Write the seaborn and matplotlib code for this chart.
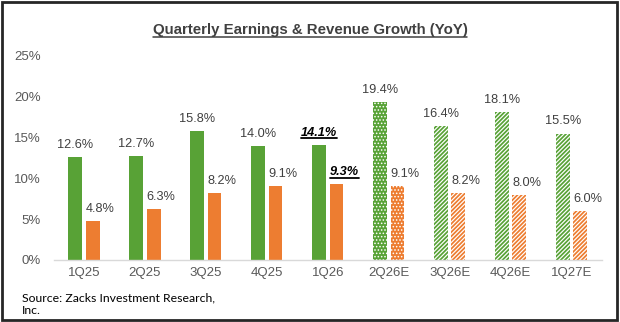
import matplotlib
matplotlib.use("Agg")
import matplotlib.pyplot as plt
import seaborn as sns
import pandas as pd
from matplotlib.patches import Rectangle
from matplotlib.lines import Line2D

# ---- data ----
quarters = ["1Q25", "2Q25", "3Q25", "4Q25", "1Q26", "2Q26E", "3Q26E", "4Q26E", "1Q27E"]
earnings = [12.6, 12.7, 15.8, 14.0, 14.1, 19.4, 16.4, 18.1, 15.5]
revenue = [4.8, 6.3, 8.2, 9.1, 9.3, 9.1, 8.2, 8.0, 6.0]
series = ["Earnings Growth", "Revenue Growth"]
y_ticks = [0, 5, 10, 15, 20, 25]
title = "Quarterly Earnings & Revenue Growth (YoY)"
source = "Source: Zacks Investment Research,\nInc."

# ---- styles ----
fill_style = ["solid"] * 5 + ["dots"] + ["stripes"] * 3
highlight = "1Q26"
GREEN = "#58A236"
ORANGE = "#ED7D31"
TXT = "#404040"
TICK = "#595959"
W, H = 620, 322

sns.set_theme(style="white")
plt.rcParams["font.family"] = ["Liberation Sans", "DejaVu Sans"]
plt.rcParams["hatch.linewidth"] = 1.25

df = pd.DataFrame({
    "quarter": quarters * 2,
    "series": [series[0]] * len(quarters) + [series[1]] * len(quarters),
    "value": earnings + revenue,
})

fig = plt.figure(figsize=(W / 100, H / 100), dpi=100)
fig.patch.set_facecolor("white")
ax = fig.add_axes([53.5 / W, 62 / H, (602 - 53.5) / W, 204 / H])
sns.barplot(data=df, x="quarter", y="value", hue="series", order=quarters,
            hue_order=series, palette=[GREEN, ORANGE], width=0.572, gap=0.21,
            saturation=1, linewidth=0, legend=False, ax=ax, errorbar=None)

colors = [GREEN, ORANGE]
underline_texts = []
for si, cont in enumerate(ax.containers):
    col = colors[si]
    for i, bar in enumerate(cont):
        st = fill_style[i]
        if st == "dots":
            bar.set_facecolor(col)
            bar.set_edgecolor("white")
            bar.set_hatch(".....")
            bar.set_linewidth(0)
            if hasattr(bar, "set_hatch_linewidth"):
                bar.set_hatch_linewidth(0.7)
        elif st == "stripes":
            bar.set_facecolor("white")
            bar.set_edgecolor(col)
            bar.set_hatch("////////")
            bar.set_linewidth(0)
        v = bar.get_height()
        cx = bar.get_x() + bar.get_width() / 2
        dx = 0 if si == 0 else 5.5
        if quarters[i] == highlight:
            t = ax.annotate(f"{v:.1f}%", (cx, v), xytext=(dx, 6.5),
                            textcoords="offset points", ha="center", va="baseline",
                            fontsize=9.2, fontweight="bold", fontstyle="italic",
                            color="black")
            underline_texts.append(t)
        else:
            ax.annotate(f"{v:.1f}%", (cx, v), xytext=(dx, 6.5),
                        textcoords="offset points", ha="center", va="baseline",
                        fontsize=9.2, color=TXT)

ax.set_ylim(0, 25)
ax.set_xlim(-0.5, len(quarters) - 0.5)
ax.set_yticks(y_ticks)
ax.set_yticklabels([f"{t}%" for t in y_ticks])
ax.set_xlabel("")
ax.set_ylabel("")
for s in ["top", "right", "left"]:
    ax.spines[s].set_visible(False)
ax.spines["bottom"].set_color("#D9D9D9")
ax.spines["bottom"].set_linewidth(1.0)
ax.tick_params(axis="both", length=0, labelsize=9.5, labelcolor=TICK)
ax.tick_params(axis="y", pad=9)
ax.tick_params(axis="x", pad=5)

tt = fig.text(0.5, 1 - 34 / H, title, ha="center", va="baseline",
              fontsize=10.8, fontweight="bold", color=TXT)
fig.text(22 / W, 1 - 292 / H, source, ha="left", va="top", fontsize=8.8,
         color="black", family=["Lato", "DejaVu Sans"], linespacing=1.25)

fig.canvas.draw()
r = fig.canvas.get_renderer()
bb = tt.get_window_extent(r)
ybase = H - 37
fig.add_artist(Line2D([bb.x0 / W, bb.x1 / W], [ybase / H, ybase / H],
                      transform=fig.transFigure, color=TXT, lw=1.1))
for t in underline_texts:
    b = t.get_window_extent(r)
    yb = b.y0 + 0.5
    fig.add_artist(Line2D([b.x0 / W, b.x1 / W], [yb / H, yb / H],
                          transform=fig.transFigure, color="black", lw=1.3))

fig.add_artist(Rectangle((1.5 / W, 2 / H), (616.5 - 1.5) / W, (320.5 - 2) / H,
                         transform=fig.transFigure, fill=False,
                         edgecolor="#262626", lw=2.0, zorder=10))

fig.savefig("out.png", dpi=100, facecolor="white")
